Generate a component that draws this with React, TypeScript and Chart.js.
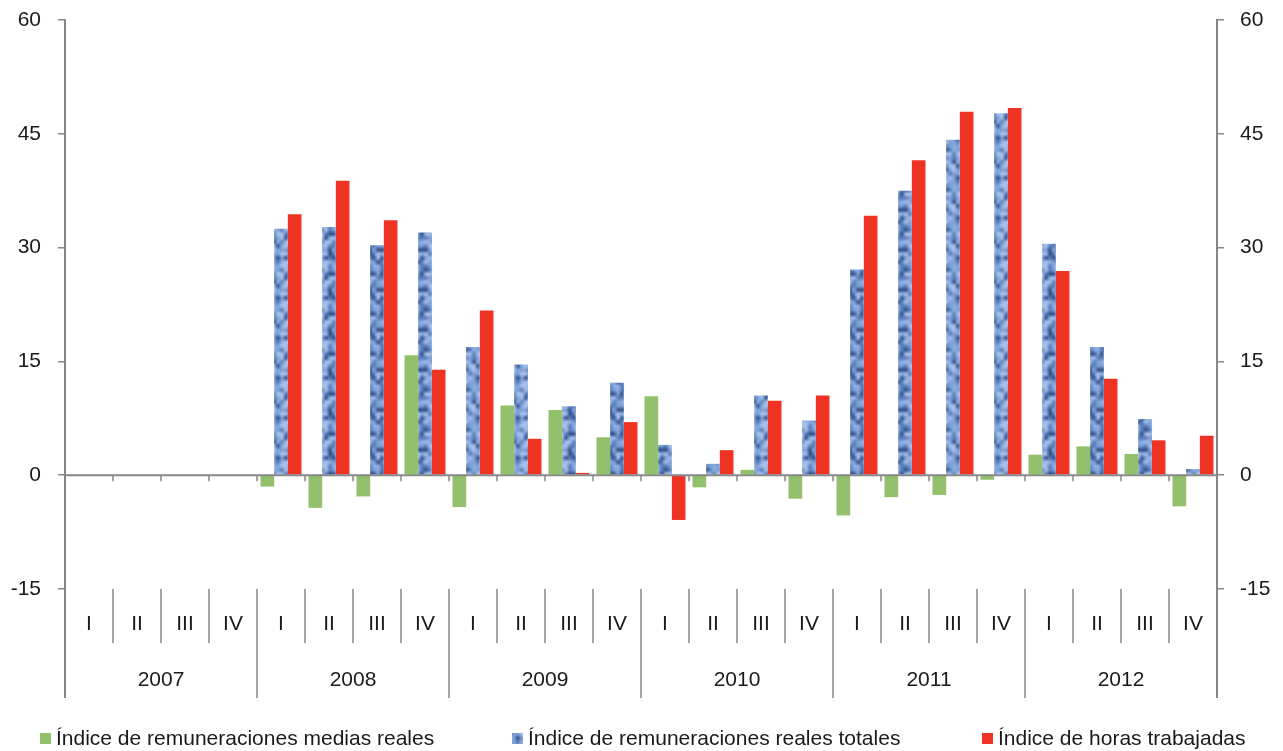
import React, { useEffect, useRef } from "react";
import { Chart, registerables } from "chart.js";

Chart.register(...registerables);

const quarters = ["I", "II", "III", "IV"];
const years = ["2007", "2008", "2009", "2010", "2011", "2012"];
const categories = years.flatMap((y) => quarters.map((q) => `${q} ${y}`));

const seriesNames = [
  "Índice de remuneraciones medias reales",
  "Índice de remuneraciones reales totales",
  "Índice de horas trabajadas",
];

const mediasReales = [
  null, null, null, null,
  -1.5, -4.3, -2.8, 15.8,
  -4.2, 9.2, 8.6, 5.0,
  10.4, -1.6, 0.7, -3.1,
  -5.3, -2.9, -2.6, -0.6,
  2.7, 3.8, 2.8, -4.1,
];
const realesTotales = [
  null, null, null, null,
  32.5, 32.7, 30.3, 32.0,
  16.9, 14.6, 9.1, 12.2,
  4.0, 1.5, 10.5, 7.2,
  27.1, 37.5, 44.2, 47.7,
  30.5, 16.9, 7.4, 0.8,
];
const horasTrabajadas = [
  null, null, null, null,
  34.4, 38.8, 33.6, 13.9,
  21.7, 4.8, 0.3, 7.0,
  -5.9, 3.3, 9.8, 10.5,
  34.2, 41.5, 47.9, 48.4,
  26.9, 12.7, 4.6, 5.2,
];

const yTicks = { min: -15, max: 60, step: 15 };

const GREEN = "#93C06B";
const RED = "#EE3325";
const AXIS = "#868686";
const TEXT = "#1a1a1a";
const FONT = "'Liberation Sans', Arial, sans-serif";

function makeBluePattern(ctx: CanvasRenderingContext2D): CanvasPattern | string {
  const n = 10;
  const small = document.createElement("canvas");
  small.width = n;
  small.height = n;
  const s = small.getContext("2d");
  if (!s) return "#7B9CD3";
  const shades = ["#2F4F8A", "#5A7DBA", "#7EA0D8", "#A9C3EE", "#8FB0E6"];
  for (let y = 0; y < n; y++) {
    for (let x = 0; x < n; x++) {
      const h = (((x + 3) * 73856093) ^ ((y + 7) * 19349663)) >>> 0;
      s.fillStyle = shades[h % shades.length];
      s.fillRect(x, y, 1, 1);
    }
  }
  const scale = 4;
  const c = document.createElement("canvas");
  c.width = n * scale;
  c.height = n * scale;
  const p = c.getContext("2d");
  if (!p) return "#7B9CD3";
  const big = document.createElement("canvas");
  big.width = n * 3 * scale;
  big.height = n * 3 * scale;
  const b = big.getContext("2d");
  if (!b) return "#7B9CD3";
  const tiled = document.createElement("canvas");
  tiled.width = n * 3;
  tiled.height = n * 3;
  const t = tiled.getContext("2d");
  if (!t) return "#7B9CD3";
  for (let i = 0; i < 3; i++) for (let j = 0; j < 3; j++) t.drawImage(small, i * n, j * n);
  b.imageSmoothingEnabled = true;
  b.drawImage(tiled, 0, 0, big.width, big.height);
  p.drawImage(big, n * scale, n * scale, n * scale, n * scale, 0, 0, n * scale, n * scale);
  const pat = ctx.createPattern(c, "repeat");
  return pat || "#7B9CD3";
}

export default function App() {
  const canvasRef = useRef<HTMLCanvasElement | null>(null);

  useEffect(() => {
    const canvas = canvasRef.current;
    if (!canvas) return;
    const ctx = canvas.getContext("2d");
    if (!ctx) return;
    const blue = makeBluePattern(ctx);

    const decor = {
      id: "decor",
      afterDatasetsDraw(chart: any) {
        const c = chart.ctx;
        const x = chart.scales.x;
        const y = chart.scales.y;
        const area = chart.chartArea;
        const catW = (area.right - area.left) / categories.length;
        const y0 = y.getPixelForValue(0);
        c.save();
        c.strokeStyle = AXIS;
        c.lineWidth = 2;
        c.beginPath();
        c.moveTo(area.left, y0);
        c.lineTo(area.right, y0);
        c.stroke();
        c.lineWidth = 1.5;
        for (let k = 1; k < categories.length; k++) {
          const bx = Math.round(x.getPixelForValue(k) - catW / 2);
          c.beginPath();
          c.moveTo(bx, y0);
          c.lineTo(bx, y0 + 6);
          c.stroke();
        }
        c.restore();
      },
      afterDraw(chart: any) {
        const c = chart.ctx;
        const x = chart.scales.x;
        const area = chart.chartArea;
        const catW = (area.right - area.left) / categories.length;
        const bottom = area.bottom;
        const qEnd = bottom + 54;
        const yEnd = bottom + 109;
        c.save();
        c.strokeStyle = AXIS;
        c.lineWidth = 2;
        c.beginPath();
        c.moveTo(area.left, bottom);
        c.lineTo(area.left, yEnd);
        c.moveTo(area.right, bottom);
        c.lineTo(area.right, yEnd);
        c.stroke();
        c.lineWidth = 1.5;
        for (let k = 1; k < categories.length; k++) {
          const bx = Math.round(x.getPixelForValue(k) - catW / 2);
          c.beginPath();
          c.moveTo(bx, bottom);
          c.lineTo(bx, k % 4 === 0 ? yEnd : qEnd);
          c.stroke();
        }
        c.fillStyle = TEXT;
        c.font = `21px ${FONT}`;
        c.textAlign = "center";
        c.textBaseline = "middle";
        categories.forEach((_, i) => {
          c.fillText(quarters[i % 4], x.getPixelForValue(i), bottom + 35);
        });
        years.forEach((yr, j) => {
          const cx = (x.getPixelForValue(j * 4) + x.getPixelForValue(j * 4 + 3)) / 2;
          c.fillText(yr, cx, bottom + 91);
        });
        // legend
        const fills: (string | CanvasPattern)[] = [GREEN, blue, RED];
        const boxX = [40, 512, 982];
        c.textAlign = "left";
        c.textBaseline = "alphabetic";
        seriesNames.forEach((name, i) => {
          c.fillStyle = fills[i];
          c.fillRect(boxX[i], 733, 11, 11);
          c.fillStyle = TEXT;
          c.fillText(name, boxX[i] + 16, 745);
        });
        c.restore();
      },
    };

    const tickCommon = {
      stepSize: yTicks.step,
      color: TEXT,
      font: { family: FONT, size: 21 },
    };

    const fitY = (w: number) => (s: any) => {
      s.width = w;
      s.paddingTop = 0;
      s.paddingBottom = 0;
    };

    const chart = new Chart(ctx, {
      type: "bar",
      data: {
        labels: categories,
        datasets: [
          { label: seriesNames[0], data: mediasReales, backgroundColor: GREEN },
          { label: seriesNames[1], data: realesTotales, backgroundColor: blue as any },
          { label: seriesNames[2], data: horasTrabajadas, backgroundColor: RED },
        ],
      },
      options: {
        responsive: false,
        animation: false,
        layout: { padding: { top: 20, bottom: 162, left: 0, right: 0 } },
        datasets: {
          bar: { categoryPercentage: 41 / 48, barPercentage: 1, borderWidth: 0 },
        },
        plugins: {
          legend: { display: false },
          tooltip: { enabled: false },
        },
        scales: {
          x: { type: "category", display: false, offset: true },
          y: {
            position: "left",
            min: yTicks.min,
            max: yTicks.max,
            afterFit: fitY(65),
            ticks: { ...tickCommon, padding: 17 },
            grid: {
              drawOnChartArea: false,
              drawTicks: true,
              tickLength: 7,
              color: AXIS,
              lineWidth: 1.5,
            },
            border: { display: true, color: AXIS, width: 2 },
          },
          y2: {
            position: "right",
            min: yTicks.min,
            max: yTicks.max,
            afterFit: fitY(66),
            ticks: { ...tickCommon, padding: 16 },
            grid: {
              drawOnChartArea: false,
              drawTicks: true,
              tickLength: 7,
              color: AXIS,
              lineWidth: 1.5,
            },
            border: { display: true, color: AXIS, width: 2 },
          },
        },
      },
      plugins: [decor],
    });

    return () => chart.destroy();
  }, []);

  return (
    <div style={{ position: "absolute", left: 0, top: 0, width: 1283, height: 751, background: "#fff" }}>
      <canvas ref={canvasRef} width={1283} height={751} style={{ display: "block" }} />
    </div>
  );
}
